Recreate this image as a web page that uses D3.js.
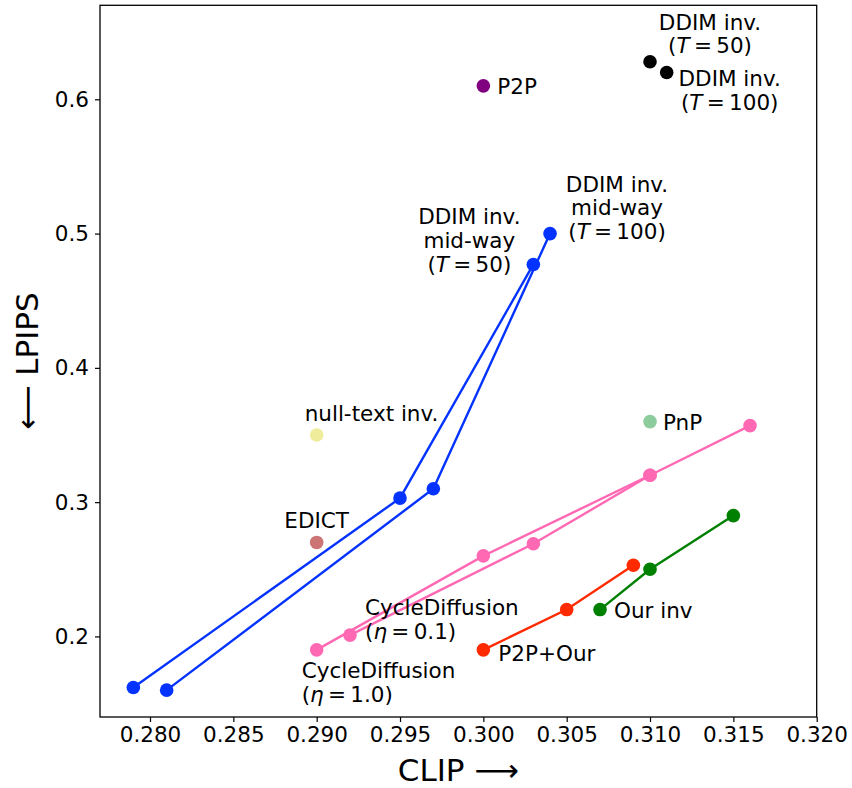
<!DOCTYPE html>
<html>
<head>
<meta charset="utf-8">
<script src="https://cdn.jsdelivr.net/npm/d3@7"></script>
<style>
  body { margin: 0; background: #fff; }
  text { font-family: "DejaVu Sans", sans-serif; fill: #000; }
</style>
</head>
<body>
<script>

// CLIP (x) / LPIPS (y) values
var midway50Clip = [0.279, 0.295, 0.303]
var midway50Lpips = [0.162, 0.303, 0.477]
var midway100Clip = [0.281, 0.297, 0.304]
var midway100Lpips = [0.160, 0.310, 0.500]
var cycle10Clip = [0.290, 0.300, 0.310, 0.316]
var cycle10Lpips = [0.190, 0.260, 0.320, 0.357]
var cycle01Clip = [0.292, 0.303, 0.310]
var cycle01Lpips = [0.201, 0.269, 0.320]
var p2pOurClip = [0.300, 0.305, 0.309]
var p2pOurLpips = [0.190, 0.220, 0.253]
var ourInvClip = [0.307, 0.310, 0.315]
var ourInvLpips = [0.220, 0.250, 0.290]

var singleNames = ["P2P", "DDIM inv. 50", "DDIM inv. 100", "null-text inv.", "EDICT", "PnP"]
var singleClip = [0.300, 0.310, 0.311, 0.290, 0.290, 0.310]
var singleLpips = [0.610, 0.628, 0.620, 0.350, 0.270, 0.360]

var xTicks = [0.280, 0.285, 0.290, 0.295, 0.300, 0.305, 0.310, 0.315, 0.320]
var yTicks = [0.2, 0.3, 0.4, 0.5, 0.6]

// label text, one entry per annotated point
var labelLines = {
  midway50: ["DDIM inv.", "mid-way", "(T = 50)"],
  midway100: ["DDIM inv.", "mid-way", "(T = 100)"],
  ddim50: ["DDIM inv.", "(T = 50)"],
  ddim100: ["DDIM inv.", "(T = 100)"],
  p2p: ["P2P"],
  nullText: ["null-text inv."],
  edict: ["EDICT"],
  pnp: ["PnP"],
  cycle01: ["CycleDiffusion", "(η = 0.1)"],
  cycle10: ["CycleDiffusion", "(η = 1.0)"],
  p2pOur: ["P2P+Our"],
  ourInv: ["Our inv"]
}

var W = 852, H = 788
var margin = {top: 5.3, right: 35.3, bottom: 71, left: 100}
var width = W - margin.left - margin.right,
    height = H - margin.top - margin.bottom

var svg = d3.select("body").append("svg")
    .attr("width", W)
    .attr("height", H)

var g = svg.append("g")
    .attr("transform", "translate(" + margin.left + "," + margin.top + ")")

var x = d3.scaleLinear().domain([0.277, 0.320]).range([0, width])
var y = d3.scaleLinear().domain([0.14, 0.67]).range([height, 0])

var zip = function(xs, ys) { return xs.map(function(v, i) { return [v, ys[i]] }) }

var series = [
  {pts: zip(midway50Clip, midway50Lpips), color: "#0433ff"},
  {pts: zip(midway100Clip, midway100Lpips), color: "#0433ff"},
  {pts: zip(cycle10Clip, cycle10Lpips), color: "#ff69b4"},
  {pts: zip(cycle01Clip, cycle01Lpips), color: "#ff69b4"},
  {pts: zip(p2pOurClip, p2pOurLpips), color: "#ff2a00"},
  {pts: zip(ourInvClip, ourInvLpips), color: "#008000"}
]
var singleColors = ["#800080", "#000000", "#000000", "#efec9b", "#cd7474", "#8dcc9c"]

var line = d3.line().x(function(d) { return x(d[0]) }).y(function(d) { return y(d[1]) })

series.forEach(function(s) {
  g.append("path")
    .datum(s.pts)
    .attr("d", line)
    .attr("fill", "none")
    .attr("stroke", s.color)
    .attr("stroke-width", 2.4)
  g.selectAll(null)
    .data(s.pts)
  .enter().append("circle")
    .attr("cx", function(d) { return x(d[0]) })
    .attr("cy", function(d) { return y(d[1]) })
    .attr("r", 6.8)
    .attr("fill", s.color)
})

g.selectAll(".single")
    .data(singleNames)
  .enter().append("circle")
    .attr("class", "single")
    .attr("cx", function(d, i) { return x(singleClip[i]) })
    .attr("cy", function(d, i) { return y(singleLpips[i]) })
    .attr("r", 6.8)
    .attr("fill", function(d, i) { return singleColors[i] })

// where each label sits relative to its point (pixels)
var labelPlace = [
  {key: "midway50", at: [midway50Clip[2], midway50Lpips[2]], dx: -64, dy: -40, anchor: "middle"},
  {key: "midway100", at: [midway100Clip[2], midway100Lpips[2]], dx: 67, dy: -42, anchor: "middle"},
  {key: "ddim50", at: [singleClip[1], singleLpips[1]], dx: 60, dy: -32, anchor: "middle"},
  {key: "ddim100", at: [singleClip[2], singleLpips[2]], dx: 63, dy: 14, anchor: "middle"},
  {key: "p2p", at: [singleClip[0], singleLpips[0]], dx: 14, dy: 8, anchor: "start"},
  {key: "nullText", at: [singleClip[3], singleLpips[3]], dx: -12, dy: -14, anchor: "start"},
  {key: "edict", at: [singleClip[4], singleLpips[4]], dx: 0, dy: -14, anchor: "middle"},
  {key: "pnp", at: [singleClip[5], singleLpips[5]], dx: 13, dy: 8, anchor: "start"},
  {key: "cycle01", at: [cycle01Clip[0], cycle01Lpips[0]], dx: 15, dy: -20, anchor: "start"},
  {key: "cycle10", at: [cycle10Clip[0], cycle10Lpips[0]], dx: -15, dy: 28, anchor: "start"},
  {key: "p2pOur", at: [p2pOurClip[0], p2pOurLpips[0]], dx: 15, dy: 11, anchor: "start"},
  {key: "ourInv", at: [ourInvClip[0], ourInvLpips[0]], dx: 14, dy: 8, anchor: "start"}
]
var lineGap = 23.7
var thin = "\u2009"

labelPlace.forEach(function(p) {
  var t = g.append("text")
    .attr("font-size", 21.5)
    .attr("text-anchor", p.anchor)
  labelLines[p.key].forEach(function(txt, li) {
    var ln = t.append("tspan")
      .attr("x", x(p.at[0]) + p.dx)
      .attr("y", y(p.at[1]) + p.dy + li * lineGap)
    // italic math symbol (T or eta) inside the parenthesised lines
    var m = txt.match(/^\((T|η) = (.*)$/)
    if (m) {
      ln.text("(")
      ln.append("tspan").attr("font-style", "italic").text(m[1])
      ln.append("tspan").text(thin + "=" + thin + m[2])
    } else {
      ln.text(txt)
    }
  })
})

// axes
var xAxis = d3.axisBottom(x).tickValues(xTicks).tickFormat(d3.format(".3f")).tickSize(5).tickPadding(5)
var yAxis = d3.axisLeft(y).tickValues(yTicks).tickFormat(d3.format(".1f")).tickSize(5).tickPadding(6)

g.append("g")
    .attr("transform", "translate(0," + height + ")")
    .call(xAxis)
    .call(function(a) { a.select(".domain").remove() })
g.append("g")
    .call(yAxis)
    .call(function(a) { a.select(".domain").remove() })

g.selectAll(".tick text").attr("font-size", 21.5).attr("font-family", "DejaVu Sans").attr("fill", "#000")
g.selectAll(".tick line").attr("stroke", "#000").attr("stroke-width", 1.2)

g.append("rect")
    .attr("width", width)
    .attr("height", height)
    .attr("fill", "none")
    .attr("stroke", "#000")
    .attr("stroke-width", 1.3)

svg.append("text")
    .attr("x", margin.left + width / 2)
    .attr("y", 781)
    .attr("text-anchor", "middle")
    .attr("font-size", 31)
    .text("CLIP \u27F6")

svg.append("text")
    .attr("transform", "translate(38," + (margin.top + height / 2) + ") rotate(-90)")
    .attr("text-anchor", "middle")
    .attr("font-size", 31)
    .text("\u27F5 LPIPS")

</script>
</body>
</html>
